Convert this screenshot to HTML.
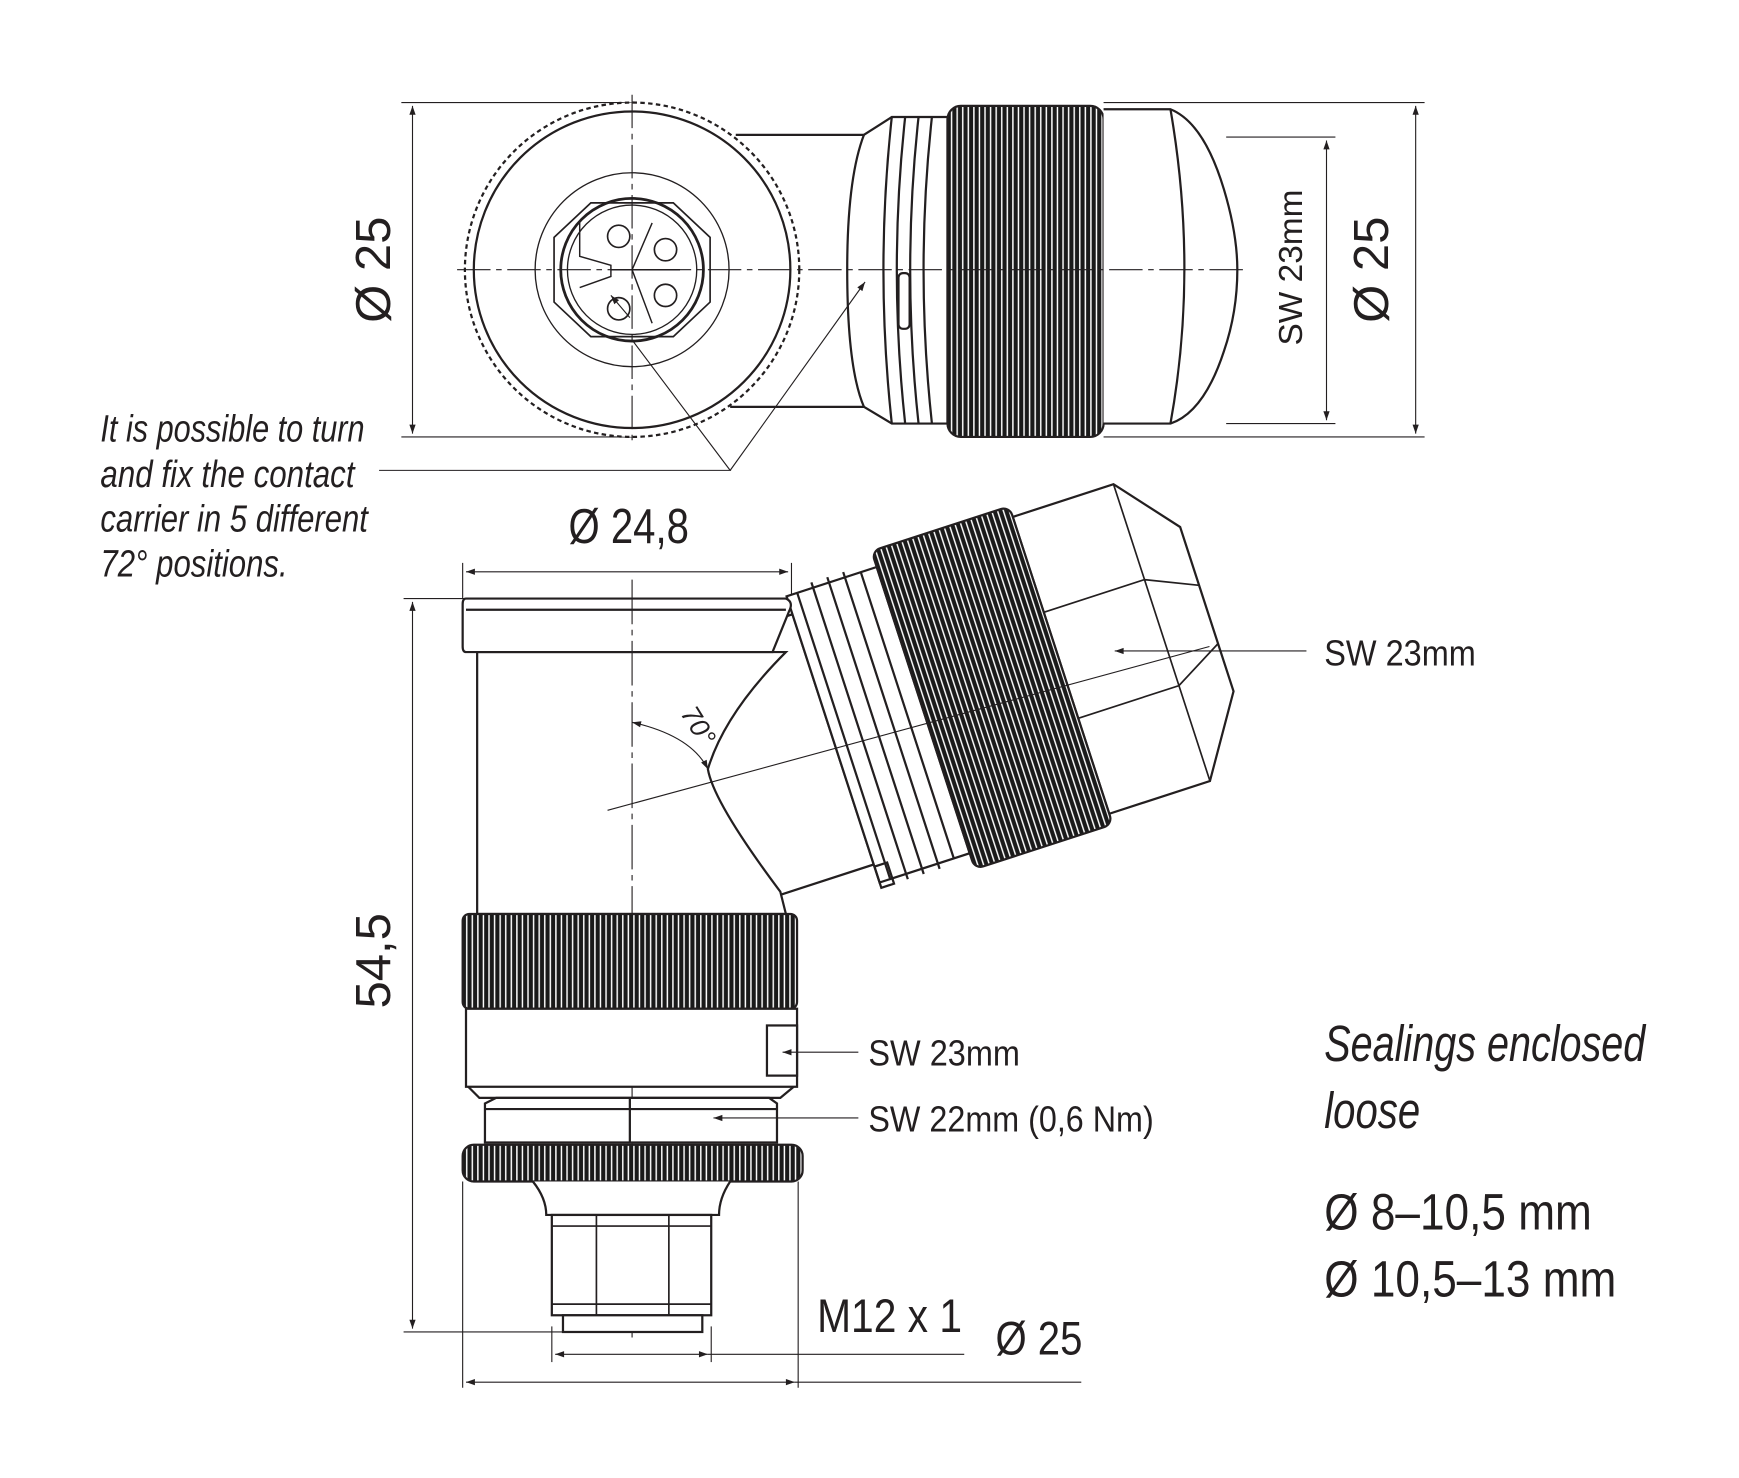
<!DOCTYPE html>
<html><head><meta charset="utf-8"><style>html,body{margin:0;padding:0;background:#fff}svg{display:block}text{font-family:"Liberation Sans",sans-serif;fill:#231f20}</style></head>
<body>
<svg width="1739" height="1478" viewBox="0 0 1560 1326" xmlns="http://www.w3.org/2000/svg">
<defs>
<pattern id="kn" width="5" height="10" patternUnits="userSpaceOnUse"><rect width="5" height="10" fill="#1a1a1a"/><rect x="3" width="1.3" height="10" fill="#fff"/></pattern>
<marker id="ar" viewBox="0 0 10 10" refX="10" refY="5" markerWidth="14" markerHeight="8" orient="auto-start-reverse" markerUnits="userSpaceOnUse"><path d="M0,1.5 L10,5 L0,8.5z" fill="#231f20"/></marker>
</defs>
<g stroke="#231f20" fill="none" stroke-width="2">
<!-- TOP VIEW -->
<line x1="360" y1="92" x2="567" y2="92" stroke-width="1"/>
<line x1="360" y1="392" x2="567" y2="392" stroke-width="1"/>
<line x1="370" y1="95" x2="370" y2="389" stroke-width="1" marker-start="url(#ar)" marker-end="url(#ar)"/>
<line x1="990" y1="92" x2="1278" y2="92" stroke-width="1"/>
<line x1="990" y1="392" x2="1278" y2="392" stroke-width="1"/>
<line x1="1100" y1="123" x2="1198" y2="123" stroke-width="1"/>
<line x1="1100" y1="380" x2="1198" y2="380" stroke-width="1"/>
<line x1="1190" y1="126" x2="1190" y2="377" stroke-width="1" marker-start="url(#ar)" marker-end="url(#ar)"/>
<line x1="1270" y1="95" x2="1270" y2="389" stroke-width="1" marker-start="url(#ar)" marker-end="url(#ar)"/>
<path d="M660,121 H775 M655,365 H775" />
<path d="M775,121 L800,105 H850 V380 H800 L775,365" fill="#fff"/>
<path d="M775,121 Q760,160 760,242 Q760,330 775,365"/>
<path d="M800,105 Q785,242 800,380 M812,105 Q797,242 812,380 M824,105 Q809,242 824,380 M836,105 Q821,242 836,380"/>
<rect x="806" y="245" width="10" height="50" rx="4"/>
<rect x="850" y="95" width="140" height="297" rx="12" fill="url(#kn)"/>
<path d="M990,98 H1050 Q1080,110 1098,170 Q1110,210 1110,242 Q1110,280 1098,315 Q1080,370 1050,380 H990" fill="#fff"/>
<path d="M1050,98 Q1075,242 1050,380"/>
<circle cx="567" cy="242" r="150" fill="#fff" stroke-dasharray="4 3" stroke-width="2"/>
<circle cx="567" cy="242" r="142"/>
<circle cx="567" cy="242" r="87" stroke-width="1.2"/>
<path d="M530,182 H604 L637,213 V271 L604,302 H530 L497,271 V213Z" stroke-width="1.5"/>
<circle cx="567" cy="242" r="64" stroke-width="2.5"/>
<circle cx="567" cy="242" r="58" stroke-width="1.2"/>
<g stroke-width="1.5"><circle cx="555" cy="212" r="10"/><circle cx="597" cy="224" r="10"/><circle cx="597" cy="265" r="10"/><circle cx="555" cy="277" r="10"/></g>
<path d="M520,200 V230 L548,238 V248 L520,258 M548,242 H610 M567,242 L585,200 M567,242 L585,290" stroke-width="1.3"/>
<line x1="410" y1="242" x2="1115" y2="242" stroke-width="1" stroke-dasharray="30 5 5 5"/>
<line x1="567" y1="85" x2="567" y2="400" stroke-width="1" stroke-dasharray="30 5 5 5"/>
<polyline points="340,422 655,422 567,305" stroke-width="1"/>
<line x1="655" y1="422" x2="776" y2="253" stroke-width="1" marker-end="url(#ar)"/>
<line x1="548" y1="265" x2="565" y2="285" stroke-width="1" marker-start="url(#ar)"/>

<!-- SIDE VIEW dims -->
<line x1="415" y1="505" x2="415" y2="537" stroke-width="1"/>
<line x1="710" y1="505" x2="710" y2="537" stroke-width="1"/>
<line x1="418" y1="513" x2="707" y2="513" stroke-width="1" marker-start="url(#ar)" marker-end="url(#ar)"/>
<line x1="362" y1="537" x2="420" y2="537" stroke-width="1"/>
<line x1="362" y1="1195" x2="505" y2="1195" stroke-width="1"/>
<line x1="370" y1="540" x2="370" y2="1192" stroke-width="1" marker-start="url(#ar)" marker-end="url(#ar)"/>
<line x1="495" y1="1190" x2="495" y2="1222" stroke-width="1"/>
<line x1="638" y1="1190" x2="638" y2="1222" stroke-width="1"/>
<line x1="498" y1="1215" x2="635" y2="1215" stroke-width="1" marker-start="url(#ar)" marker-end="url(#ar)"/>
<line x1="635" y1="1215" x2="865" y2="1215" stroke-width="1"/>
<line x1="415" y1="1060" x2="415" y2="1245" stroke-width="1"/>
<line x1="716" y1="1060" x2="716" y2="1245" stroke-width="1"/>
<line x1="418" y1="1240" x2="713" y2="1240" stroke-width="1" marker-start="url(#ar)" marker-end="url(#ar)"/>
<line x1="713" y1="1240" x2="970" y2="1240" stroke-width="1"/>

<g transform="translate(890,617) rotate(-18)">
<path d="M-360,-118 H-150 V118 H-360" fill="#fff"/>
<rect x="-150" y="-135" width="85" height="270" fill="#fff"/>
<path d="M-140,-135 V135 M-125,-140 V140 M-110,-140 V140 M-95,-140 V140 M-80,-135 V135"/>
<rect x="-150" y="120" width="12" height="20" />
<path d="M65,-140 H160 L205,-85 V70 L160,140 H65Z" fill="#fff"/>
<path d="M65,-50 H160 L205,-30 M65,50 H160 L205,25 M160,-140 V140" stroke-width="1.5"/>
<rect x="-65" y="-150" width="130" height="300" rx="8" fill="url(#kn)"/>
</g>
<path d="M428,585 V820 H705 L700,800 Q640,720 635,690 Q650,640 705,585Z" fill="#fff"/>
<path d="M418,537 H705 Q712,540 708,548 L693,585 H418 Q415,585 415,580 V542 Q415,537 418,537Z" fill="#fff"/>
<path d="M418,547 H705"/>
<line x1="567" y1="520" x2="567" y2="1200" stroke-width="1" stroke-dasharray="40 5 5 5"/>
<line x1="545" y1="727" x2="1085" y2="580" stroke-width="1"/>
<path d="M567,648 Q620,660 635,690" stroke-width="1" marker-start="url(#ar)" marker-end="url(#ar)"/>
<rect x="415" y="820" width="300" height="85" rx="6" fill="url(#kn)"/>
<rect x="418" y="905" width="297" height="70" fill="#fff"/>
<rect x="688" y="920" width="27" height="45" fill="#fff"/>
<path d="M420,975 L430,985 H700 L712,975" />
<path d="M435,990 L445,985 H690 L697,990 V1025 H435Z" fill="#fff"/>
<path d="M565,985 V1025 M435,995 H697"/>
<rect x="415" y="1027" width="305" height="33" rx="10" fill="url(#kn)"/>
<path d="M478,1060 Q490,1075 490,1090 H645 Q645,1075 655,1060" fill="#fff"/>
<rect x="495" y="1090" width="143" height="90" fill="#fff"/>
<path d="M535,1090 V1180 M600,1090 V1180 M495,1100 H638 M495,1170 H638" stroke-width="1.5"/>
<rect x="505" y="1180" width="125" height="15" fill="#fff"/>
<line x1="1172" y1="584" x2="1000" y2="584" stroke-width="1" marker-end="url(#ar)"/>
<line x1="770" y1="944" x2="702" y2="944" stroke-width="1" marker-end="url(#ar)"/>
<line x1="770" y1="1003" x2="640" y2="1003" stroke-width="1" marker-end="url(#ar)"/>
</g>

<g font-size="36">
<text transform="translate(350,242) rotate(-90)" text-anchor="middle" font-size="44">Ø 25</text>
<text transform="translate(1168,240) rotate(-90)" text-anchor="middle" font-size="30">SW 23mm</text>
<text transform="translate(1245,242) rotate(-90)" text-anchor="middle" font-size="44">Ø 25</text>
<g font-style="italic" font-size="34">
<text x="90" y="396" textLength="237" lengthAdjust="spacingAndGlyphs">It is possible to turn</text>
<text x="90" y="437" textLength="228" lengthAdjust="spacingAndGlyphs">and fix the contact</text>
<text x="90" y="477" textLength="240" lengthAdjust="spacingAndGlyphs">carrier in 5 different</text>
<text x="90" y="517" textLength="168" lengthAdjust="spacingAndGlyphs">72° positions.</text>
</g>
<text x="510" y="487" font-size="44" textLength="108" lengthAdjust="spacingAndGlyphs">Ø 24,8</text>
<text transform="translate(350,862) rotate(-90)" text-anchor="middle" font-size="44">54,5</text>
<text transform="translate(610,640) rotate(58)" font-size="24" font-style="italic">70°</text>
<text x="1188" y="597" font-size="32" textLength="136" lengthAdjust="spacingAndGlyphs">SW 23mm</text>
<text x="779" y="956" font-size="32" textLength="136" lengthAdjust="spacingAndGlyphs">SW 23mm</text>
<text x="779" y="1015" font-size="32" textLength="256" lengthAdjust="spacingAndGlyphs">SW 22mm (0,6 Nm)</text>
<text x="733" y="1195" font-size="42" textLength="130" lengthAdjust="spacingAndGlyphs">M12 x 1</text>
<text x="893" y="1215" font-size="42" textLength="78" lengthAdjust="spacingAndGlyphs">Ø 25</text>
<text x="1188" y="952" font-size="46" font-style="italic" textLength="288" lengthAdjust="spacingAndGlyphs">Sealings enclosed</text>
<text x="1188" y="1012" font-size="46" font-style="italic" textLength="86" lengthAdjust="spacingAndGlyphs">loose</text>
<text x="1188" y="1103" font-size="46" textLength="240" lengthAdjust="spacingAndGlyphs">Ø 8–10,5 mm</text>
<text x="1188" y="1163" font-size="46" textLength="262" lengthAdjust="spacingAndGlyphs">Ø 10,5–13 mm</text>
</g>
</svg>
</body></html>
